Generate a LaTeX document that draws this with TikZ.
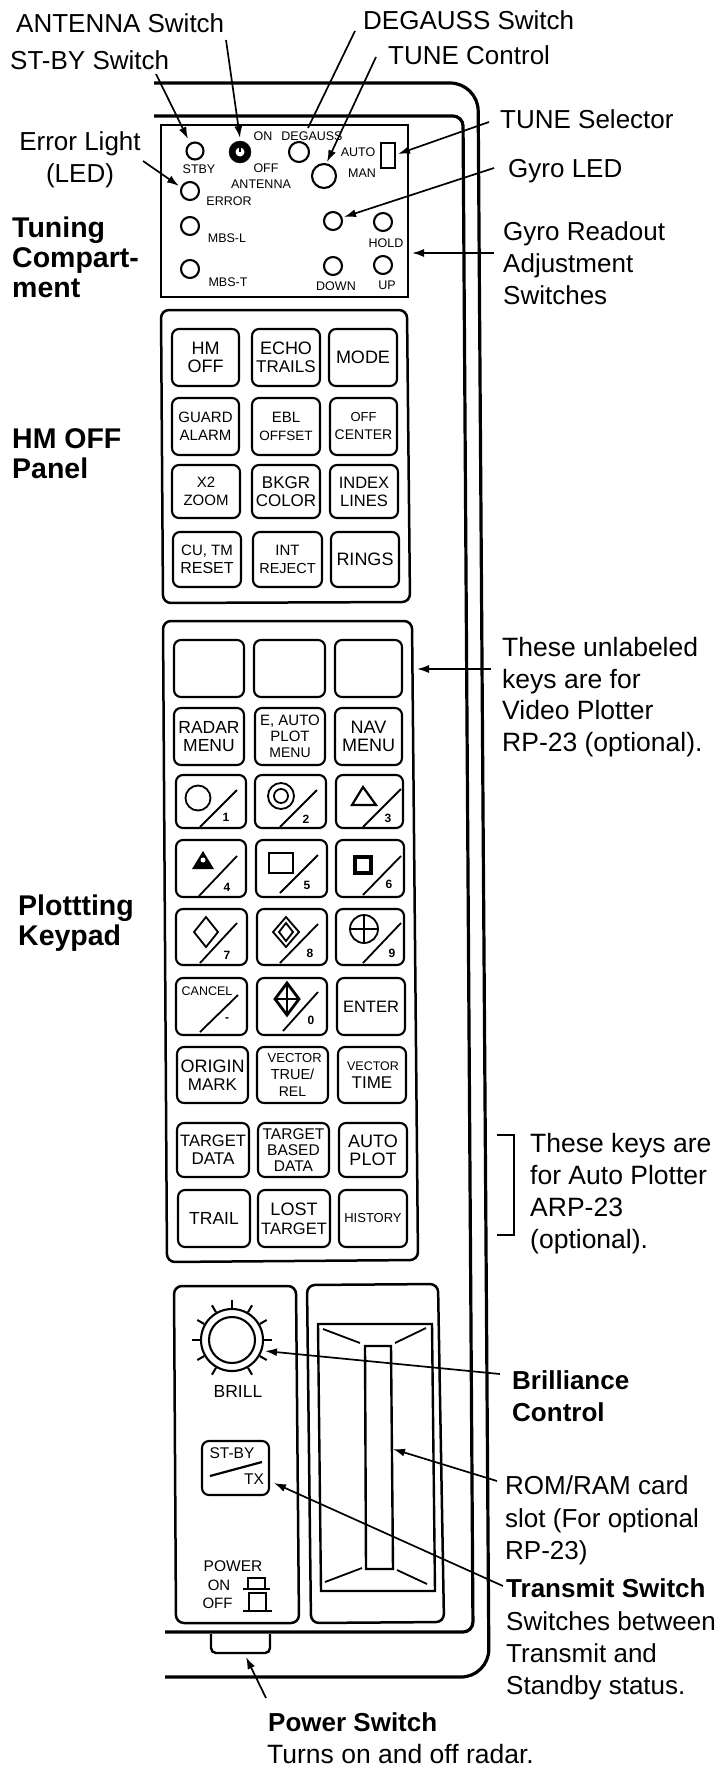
\documentclass[tikz,border=0pt]{standalone}
\usepackage{fontspec}
\setmainfont{Liberation Sans}
\usetikzlibrary{arrows.meta}
\newcommand\fs[1]{\fontsize{#1}{\the\baselineskip}\selectfont}
\newcommand\keyb[7][18]{\node[keybox,font=\fontsize{12}{#1}\selectfont,minimum width={(#5-#3)*1pt},minimum height={(#6-#4)*1pt}] (#2) at ({(#3+#5)/2},{(#4+#6)/2}) {#7};}
\newcommand\numlab[4]{\node[numtext] (#1) at (#2,#3) {#4};}
\tikzset{
 x=1pt,y=-1pt,
 keybox/.style={draw,line width=2.1pt,rounded corners=7pt,inner sep=0pt,align=center},
 panel/.style={line width=2.5pt,rounded corners=8pt},
 led/.style={draw,circle,line width=2.1pt,inner sep=0pt},
 tiny/.style={inner sep=0pt,font=\fs{12.5}},
 numtext/.style={inner sep=0pt,font=\bfseries\fs{12}},
 lab/.style={anchor=north west,inner sep=0pt,align=left,font=\fontsize{26}{32}\selectfont},
 blab/.style={anchor=north west,inner sep=0pt,align=left,font=\bfseries\fontsize{28.5}{30}\selectfont},
 callout/.style={line width=1.7pt,-{Latex[length=12pt,width=8pt]}},
 diag/.style={line width=1.8pt},
 sym/.style={line width=1.8pt},
 housing/.style={line width=3.2pt},
}
\begin{document}
\begin{tikzpicture}
\useasboundingbox (0,0) rectangle (721,1766);
\fill[white] (0,0) rectangle (721,1766);
% housing
\draw[housing,rounded corners=28pt] (154,83)--(478,83)--(489,1677)--(165,1677);
\draw[housing,rounded corners=10pt] (154,116)--(463,116)--(473,1632)--(165,1632);
\draw[line width=2.4pt,rounded corners=5pt] (211,1634)--(211,1653)--(270,1653)--(270,1634);
% tuning compartment
\draw[line width=2.6pt] (161,125)--(408,125)--(408,297)--(161,297)--cycle;
\node[led,minimum size=17pt] (ledstby) at (195,151) {};
\node[draw,circle,fill=black,minimum size=22pt,inner sep=0pt] (antsw) at (240,152) {};
\fill[white] (antsw.center) circle (4.5);
\draw[line width=1.5pt] (antsw.center) -- (240,146);
\node[led,minimum size=20pt] (degsw) at (299,152) {};
\node[led,minimum size=24pt] (tunectl) at (324,176) {};
\node[led,minimum size=18pt] (lederr) at (190,191) {};
\node[led,minimum size=18pt] (ledmbsl) at (190,226) {};
\node[led,minimum size=18pt] (ledmbst) at (190,269) {};
\node[led,minimum size=18pt] (ledgyro) at (333,221) {};
\node[led,minimum size=18pt] (swhold) at (383,222) {};
\node[led,minimum size=18pt] (swdown) at (333,266) {};
\node[led,minimum size=18pt] (swup) at (383,265) {};
\node[draw,line width=2.1pt,minimum width=14pt,minimum height=25pt,inner sep=0pt] (tunesel) at (388,155.5) {};
\node[tiny] (tstby) at (199,169) {STBY};
\node[tiny] (ton) at (263,136) {ON};
\node[tiny] (tdeg) at (312,136) {DEGAUSS};
\node[tiny] (toff) at (266,168) {OFF};
\node[tiny] (tant) at (261,184) {ANTENNA};
\node[tiny] (tauto) at (358,152) {AUTO};
\node[tiny] (tman) at (362,173) {MAN};
\node[tiny] (terr) at (229,201) {ERROR};
\node[tiny] (tmbsl) at (227,238) {MBS-L};
\node[tiny] (tmbst) at (228,282) {MBS-T};
\node[tiny] (thold) at (386,243) {HOLD};
\node[tiny] (tdown) at (336,286) {DOWN};
\node[tiny] (tup) at (387,285) {UP};
% HM OFF panel
\draw[panel] (161,310)--(407,310)--(410,602)--(163,603)--cycle;
\keyb{k11}{172}{329}{239}{386}{\fs{18}HM\\\fs{18}OFF}
\keyb{k12}{252}{329}{320}{386}{\fs{18}ECHO\\\fs{17}TRAILS}
\keyb{k13}{329}{329}{397}{386}{\fs{18}MODE}
\keyb{k21}{172}{398}{239}{455}{\fs{15}GUARD\\\fs{15}ALARM}
\keyb{k22}{252}{398}{320}{455}{\fs{15}EBL\\\fs{13.5}OFFSET}
\keyb{k23}{330}{398}{397}{455}{\fs{13}OFF\\\fs{14}CENTER}
\keyb{k31}{172}{465}{240}{518}{\fs{15}X2\\\fs{15}ZOOM}
\keyb{k32}{252}{465}{320}{518}{\fs{17}BKGR\\\fs{17}COLOR}
\keyb{k33}{330}{465}{398}{518}{\fs{16.5}INDEX\\\fs{16.5}LINES}
\keyb{k41}{173}{532}{241}{587}{\fs{15}CU, TM\\\fs{16}RESET}
\keyb{k42}{253}{532}{322}{587}{\fs{15}INT\\\fs{14.5}REJECT}
\keyb{k43}{331}{532}{399}{587}{\fs{18}RINGS}
% plotting keypad
\draw[panel] (163,621)--(412,621)--(418,1260)--(167,1262)--cycle;
\keyb{p11}{174}{640}{244}{697}{}
\keyb{p12}{254}{640}{325}{697}{}
\keyb{p13}{335}{640}{402}{697}{}
\keyb{p21}{174}{708}{244}{765}{\fs{17.5}RADAR\\\fs{17.5}MENU}
\keyb[16]{p22}{255}{708}{325}{765}{\fs{15}E, AUTO\\\fs{15}PLOT\\\fs{14}MENU}
\keyb{p23}{335}{708}{402}{765}{\fs{18}NAV\\\fs{18}MENU}
\keyb{p31}{176}{775}{246}{828}{}
\keyb{p32}{255}{775}{326}{828}{}
\keyb{p33}{336}{775}{403}{828}{}
\keyb{p41}{176}{840}{246}{897}{}
\keyb{p42}{256}{840}{327}{897}{}
\keyb{p43}{336}{840}{404}{897}{}
\keyb{p51}{176}{909}{247}{965}{}
\keyb{p52}{257}{909}{327}{965}{}
\keyb{p53}{336}{909}{404}{965}{}
\keyb{p61}{176}{978}{247}{1035}{}
\keyb{p62}{257}{978}{327}{1035}{}
\keyb{p63}{337}{978}{405}{1035}{\fs{16.5}ENTER}
\keyb{p71}{177}{1047}{248}{1103}{\fs{18}ORIGIN\\\fs{17}MARK}
\keyb[17]{p72}{257}{1047}{328}{1103}{\fs{13}\,\,VECTOR\\\fs{14.5}TRUE/\\\fs{14}REL}
\keyb{p73}{338}{1047}{406}{1103}{\fs{12.5}\,VECTOR\\\fs{17}TIME}
\keyb{p81}{177}{1123}{249}{1177}{\fs{16.5}TARGET\\\fs{17}DATA}
\keyb[16]{p82}{258}{1123}{329}{1177}{\fs{15.5}TARGET\\\fs{15.5}BASED\\\fs{15.5}DATA}
\keyb{p83}{339}{1123}{407}{1177}{\fs{18}AUTO\\\fs{18}PLOT}
\keyb{p91}{178}{1190}{250}{1247}{\fs{17.5}TRAIL}
\keyb[19]{p92}{258}{1190}{330}{1247}{\fs{18}LOST\\\fs{16.5}TARGET}
\keyb{p93}{339}{1190}{407}{1247}{\fs{13}HISTORY}
% diagonals
\draw[diag] (200,827)--(237,790);
\draw[diag] (280,827)--(317,790);
\draw[diag] (363,827)--(401,789);
\draw[diag] (199,896)--(237,856);
\draw[diag] (280,893)--(318,855);
\draw[diag] (363,895)--(401,856);
\draw[diag] (200,963)--(237,923);
\draw[diag] (280,963)--(318,924);
\draw[diag] (363,963)--(401,923);
\draw[diag] (200,1032)--(238,995);
\draw[diag] (283,1031)--(318,992);
% symbols
\draw[sym] (198,798) circle (12.5);
\draw[sym] (281,796) circle (13) (281,796) circle (7);
\draw[line width=2.2pt] (363,787)--(352,805)--(376,805)--cycle;
\fill (203,851)--(192,869)--(214,869)--cycle;
\fill[white] (203,860) circle (2.5);
\draw[sym] (269,853) rectangle (293,873);
\draw[line width=4pt] (355,857) rectangle (371,873);
\draw[sym] (206,917)--(218,932)--(206,947)--(194,932)--cycle;
\draw[sym] (286,917)--(299,932)--(286,947)--(273,932)--cycle;
\draw[sym] (286,923)--(293,932)--(286,941)--(279,932)--cycle;
\draw[sym] (364,929) circle (14) (350,929)--(378,929) (364,915)--(364,943);
\draw[line width=2.8pt] (287,983)--(299,999)--(287,1015)--(275,999)--cycle;
\draw[sym] (287,983)--(287,1015) (275,999)--(299,999);
\numlab{n1}{226}{817}{1}
\numlab{n2}{306}{819}{2}
\numlab{n3}{388}{818}{3}
\numlab{n4}{227}{887}{4}
\numlab{n5}{307}{885}{5}
\numlab{n6}{389}{884}{6}
\numlab{n7}{227}{955}{7}
\numlab{n8}{310}{953}{8}
\numlab{n9}{392}{953}{9}
\numlab{nm}{227}{1020}{-}
\numlab{n0}{311}{1020}{0}
\node[inner sep=0pt,font=\fs{12.5}] (tcancel) at (207,991) {CANCEL};
% bottom panels
\draw[panel] (174,1286)--(296,1286)--(299,1623)--(176,1623)--cycle;
\draw[panel] (307,1285)--(438,1284)--(444,1622)--(311,1623)--cycle;
\draw[line width=2.4pt] (318,1324)--(432,1324)--(435,1591)--(321,1591)--cycle;
\draw[line width=2.4pt] (365,1346)--(391,1346)--(393,1569)--(366,1569)--cycle;
\draw[sym] (323,1329)--(360,1343) (426,1328)--(395,1343) (325,1582)--(362,1568) (427,1584)--(397,1570);
% knob
\node[led,minimum size=62pt] (knob) at (232,1340) {};
\draw[line width=2.1pt] (knob.center) circle (23);
\foreach \a in {90,60,30,0,-30,-60,-120,-150,180,150,120}
  \draw[line width=2pt] (knob.\a) -- ++(\a:8pt);
\node[inner sep=0pt,font=\fs{17.5}] (tbrill) at (238,1391) {BRILL};
\node[keybox,minimum width=67pt,minimum height=54pt] (stbykey) at (235.5,1468) {};
\node[inner sep=0pt,font=\fs{15.5}] (tstbyk) at (232,1453) {ST-BY};
\node[inner sep=0pt,font=\fs{15.5}] (ttx) at (254,1479) {TX};
\draw[line width=2.2pt] (210,1476)--(262,1462);
\node[inner sep=0pt,font=\fs{15.5}] (tpower) at (233,1566) {POWER};
\node[inner sep=0pt,font=\fs{15}] (tonp) at (219,1585) {ON};
\node[inner sep=0pt,font=\fs{15}] (toffp) at (217.5,1603) {OFF};
\draw[line width=2.2pt] (243,1589)--(270,1589) (248,1589)--(248,1578)--(265,1578)--(265,1589);
\draw[line width=2.2pt] (243,1611)--(272,1611) (249,1611)--(249,1593)--(266,1593)--(266,1611);
% side texts
\node[lab] (lant) at (16,13.5) {ANTENNA Switch};
\node[lab] (lst) at (10,50.5) {ST-BY Switch};
\node[lab] (ldeg) at (363,10.5) {DEGAUSS Switch};
\node[lab] (ltune) at (388,45.5) {TUNE Control};
\node[lab] (lsel) at (500,109.5) {TUNE Selector};
\node[lab] (lgyro) at (508,159.5) {Gyro LED};
\node[lab] (lgr) at (503,221.5) {Gyro Readout\\Adjustment\\Switches};
\node[lab,align=center,anchor=north] (lerr) at (80,131.5) {Error Light\\(LED)};
\node[blab] (ltc) at (12,217) {Tuning\\Compart-\\ment};
\node[blab] (lhm) at (12,428) {HM OFF\\Panel};
\node[blab] (lpk) at (18,895) {Plottting\\Keypad};
\node[lab,font=\fontsize{26.5}{31.5}\selectfont] (lun) at (502,637.5) {These unlabeled\\keys are for\\Video Plotter\\RP-23 (optional).};
\node[lab,font=\fontsize{26.5}{32}\selectfont] (lap) at (530,1133.5) {These keys are\\for Auto Plotter\\ARP-23\\(optional).};
\node[blab,font=\bfseries\fontsize{26}{32}\selectfont] (lbr) at (512,1370) {Brilliance\\Control};
\node[lab,font=\fontsize{26}{32.5}\selectfont] (lrom) at (505,1475.5) {ROM/RAM card\\slot (For optional\\RP-23)};
\node[blab,font=\bfseries\fontsize{26}{32}\selectfont] (ltr) at (506,1578) {Transmit Switch};
\node[lab] (lsw) at (506,1611) {Switches between\\Transmit and\\Standby status.};
\node[blab,font=\bfseries\fontsize{26}{32}\selectfont] (lpw) at (268,1712) {Power Switch};
\node[lab,font=\fontsize{26.5}{32}\selectfont] (lto) at (267,1744) {Turns on and off radar.};
% connector ends
\coordinate (a1) at (156,74); \coordinate (a1e) at (188,139);
\coordinate (a2) at (226,40); \coordinate (a2e) at (240,138);
\coordinate (a3) at (355,31); \coordinate (a3e) at (308,128);
\coordinate (a4) at (376,57); \coordinate (a4e) at (327,162);
\coordinate (a5) at (489,122); \coordinate (a5e) at (398,154);
\coordinate (a6) at (494,168); \coordinate (a6e) at (344,217);
\coordinate (a7) at (494,253); \coordinate (a7e) at (412,253);
\coordinate (a8) at (143,161); \coordinate (a8e) at (179,186);
\coordinate (a9) at (491,669); \coordinate (a9e) at (417,669);
\coordinate (a10) at (500,1374); \coordinate (a10e) at (265,1351);
\coordinate (a11) at (497,1481); \coordinate (a11e) at (393,1449);
\coordinate (a12) at (503,1586); \coordinate (a12e) at (274,1483);
\coordinate (a13) at (266,1698); \coordinate (a13e) at (246,1657);
\draw[callout] (a1)--(a1e);
\draw[callout] (a2)--(a2e);
\draw[line width=1.7pt] (a3)--(a3e);
\draw[callout] (a4)--(a4e);
\draw[callout] (a5)--(a5e);
\draw[callout] (a6)--(a6e);
\draw[callout] (a7)--(a7e);
\draw[callout] (a8)--(a8e);
\draw[callout] (a9)--(a9e);
\draw[callout] (a10)--(a10e);
\draw[callout] (a11)--(a11e);
\draw[callout] (a12)--(a12e);
\draw[callout] (a13)--(a13e);
\draw[line width=1.7pt] (497,1135)--(514,1135)--(514,1235)--(497,1235);
\end{tikzpicture}
\end{document}
